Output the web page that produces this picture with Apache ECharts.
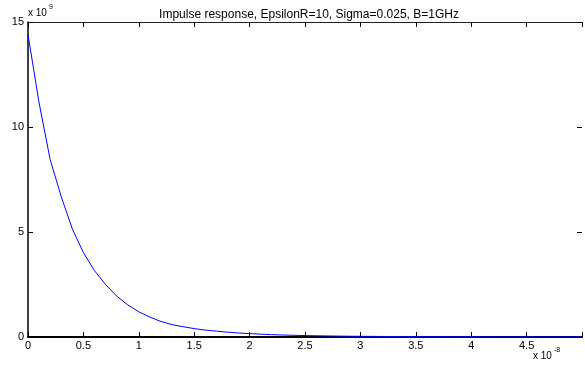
<!DOCTYPE html>
<html>
<head>
<meta charset="utf-8">
<script src="https://cdn.jsdelivr.net/npm/echarts@6/dist/echarts.min.js"></script>
<style>html,body{margin:0;padding:0;background:#fff;}#c{width:585px;height:366px;}</style>
</head>
<body>
<div id="c"></div>
<script>
// time in units of 1e-8 s
const timeValues = [0,0.1,0.2,0.3,0.4,0.5,0.6,0.7,0.8,0.9,1.0,1.1,1.2,1.3,1.4,1.5,1.6,1.7,1.8,1.9,2.0,2.1,2.2,2.3,2.4,2.5,2.6,2.7,2.8,2.9,3.0,3.1,3.2,3.3,3.4,3.5,3.6,3.7,3.8,3.9,4.0,4.1,4.2,4.3,4.4,4.5,4.6,4.7,4.8,4.9,5.0];
// impulse response in units of 1e9
const responseValues = [14.4,11.15,8.45,6.68,5.15,4.02,3.16,2.50,1.95,1.53,1.20,0.95,0.74,0.59,0.49,0.40,0.33,0.28,0.23,0.19,0.16,0.135,0.112,0.095,0.08,0.068,0.058,0.05,0.043,0.037,0.032,0.028,0.025,0.022,0.02,0.018,0.016,0.015,0.014,0.013,0.012,0.011,0.01,0.0095,0.009,0.0085,0.008,0.0075,0.007,0.0068,0.0065];
const xTicks = ['0','0.5','1','1.5','2','2.5','3','3.5','4','4.5'];
const yTicks = ['0','5','10','15'];
const titleText = 'Impulse response, EpsilonR=10, Sigma=0.025, B=1GHz';

const chart = echarts.init(document.getElementById('c'), null, {renderer:'canvas'});
const font = 'Liberation Sans, Arial, Helvetica, sans-serif';
function lineOf(w, c){ return {show:true, onZero:false, lineStyle:{color:c, width:w}}; }
function ticks(){ return {show:true, inside:true, length:5, lineStyle:{color:'#000', width:1}}; }
chart.setOption({
  animation:false,
  backgroundColor:'#fff',
  title:{text:titleText, left:304, top:4, textAlign:'center',
    textStyle:{fontFamily:font, fontSize:12, fontWeight:'normal', color:'#000'}},
  grid:{left:28, width:558, top:22, bottom:29},
  xAxis:[
    {type:'value', min:0, max:5, interval:0.5, position:'bottom',
      axisLine:lineOf(2,'#000'), axisTick:ticks(), splitLine:{show:false},
      axisLabel:{fontFamily:font, fontSize:11, color:'#000', margin:3,
        formatter:v=>{const i=Math.round(v/0.5);return xTicks[i]!==undefined?xTicks[i]:'';}}},
    {type:'value', min:0, max:5, interval:0.5, position:'top',
      axisLine:lineOf(1,'#222'), axisTick:ticks(), splitLine:{show:false}, axisLabel:{show:false}}
  ],
  yAxis:[
    {type:'value', min:0, max:15, interval:5, position:'left',
      axisLine:lineOf(1.5,'#000'), axisTick:ticks(), splitLine:{show:false},
      axisLabel:{fontFamily:font, fontSize:11, color:'#000', margin:4,
        formatter:v=>{const i=Math.round(v/5);return yTicks[i]!==undefined?yTicks[i]:'';}}},
    {type:'value', min:0, max:15, interval:5, position:'right',
      axisLine:{show:false, onZero:false}, axisTick:ticks(), splitLine:{show:false}, axisLabel:{show:false}}
  ],
  graphic:[
    {type:'text', left:28, top:8, style:{text:'x 10', font:'10px '+font, fill:'#000'}},
    {type:'text', left:49, top:4, style:{text:'9', font:'7px '+font, fill:'#000'}},
    {type:'text', left:533, top:351, style:{text:'x 10', font:'10px '+font, fill:'#000'}},
    {type:'text', left:554, top:347, style:{text:'-8', font:'7px '+font, fill:'#000'}}
  ],
  series:[{
    type:'line', xAxisIndex:0, yAxisIndex:0,
    data: timeValues.map((t,i)=>[t, responseValues[i]]),
    showSymbol:false, symbol:'none',
    lineStyle:{color:'#0000ff', width:1}
  }]
});
</script>
</body>
</html>
